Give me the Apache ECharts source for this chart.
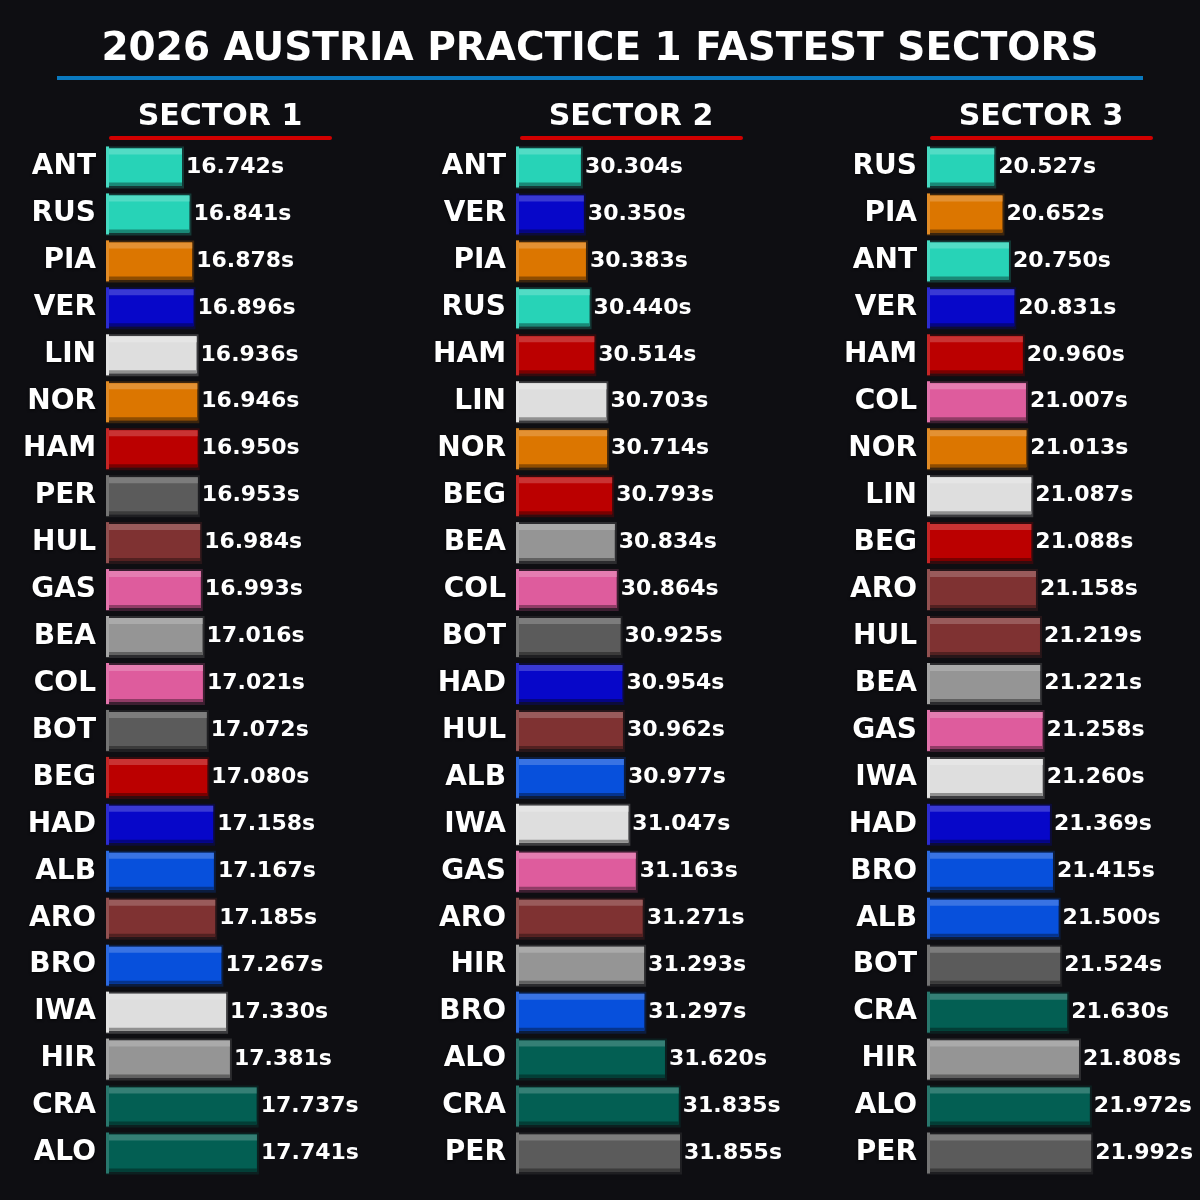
<!DOCTYPE html>
<html lang="en">
<head>
<meta charset="UTF-8">
<title>2026 Austria Practice 1 Fastest Sectors</title>
<style>
  html, body { margin: 0; padding: 0; background: #0e0e12; }
  #chart { width: 1200px; height: 1200px; }
</style>
</head>
<body>
<div id="chart"></div>
<script src="https://cdn.jsdelivr.net/npm/echarts@6/dist/echarts.min.js"></script>
<script>
var sector1Drivers = ['ANT', 'RUS', 'PIA', 'VER', 'LIN', 'NOR', 'HAM', 'PER', 'HUL', 'GAS', 'BEA', 'COL', 'BOT', 'BEG', 'HAD', 'ALB', 'ARO', 'BRO', 'IWA', 'HIR', 'CRA', 'ALO'];
var sector1Times = [16.742, 16.841, 16.878, 16.896, 16.936, 16.946, 16.950, 16.953, 16.984, 16.993, 17.016, 17.021, 17.072, 17.080, 17.158, 17.167, 17.185, 17.267, 17.330, 17.381, 17.737, 17.741];

var sector2Drivers = ['ANT', 'VER', 'PIA', 'RUS', 'HAM', 'LIN', 'NOR', 'BEG', 'BEA', 'COL', 'BOT', 'HAD', 'HUL', 'ALB', 'IWA', 'GAS', 'ARO', 'HIR', 'BRO', 'ALO', 'CRA', 'PER'];
var sector2Times = [30.304, 30.350, 30.383, 30.440, 30.514, 30.703, 30.714, 30.793, 30.834, 30.864, 30.925, 30.954, 30.962, 30.977, 31.047, 31.163, 31.271, 31.293, 31.297, 31.620, 31.835, 31.855];

var sector3Drivers = ['RUS', 'PIA', 'ANT', 'VER', 'HAM', 'COL', 'NOR', 'LIN', 'BEG', 'ARO', 'HUL', 'BEA', 'GAS', 'IWA', 'HAD', 'BRO', 'ALB', 'BOT', 'CRA', 'HIR', 'ALO', 'PER'];
var sector3Times = [20.527, 20.652, 20.750, 20.831, 20.960, 21.007, 21.013, 21.087, 21.088, 21.158, 21.219, 21.221, 21.258, 21.260, 21.369, 21.415, 21.500, 21.524, 21.630, 21.808, 21.972, 21.992];

var sectorTitles = ['SECTOR 1', 'SECTOR 2', 'SECTOR 3'];

// team colours
var TEAL = '#27d3b7', RB = '#0707c9', ORANGE = '#dc7600', RED = '#bb0000', LIGHT = '#dedede',
    CAD = '#5b5b5b', AUDI = '#7f3232', PINK = '#de5c9d', HAAS = '#959595', WIL = '#0750dc', AM = '#035f53';
var driverColors = {
    ANT: TEAL, RUS: TEAL, VER: RB, HAD: RB, PIA: ORANGE, NOR: ORANGE, HAM: RED, BEG: RED,
    LIN: LIGHT, IWA: LIGHT, PER: CAD, BOT: CAD, HUL: AUDI, ARO: AUDI, GAS: PINK, COL: PINK,
    BEA: HAAS, HIR: HAAS, ALB: WIL, BRO: WIL, CRA: AM, ALO: AM
};

var FONT = '"DejaVu Sans", "Noto Sans", sans-serif';

function mix(hex, target, t) {
    var a = parseInt(hex.slice(1), 16), b = parseInt(target.slice(1), 16);
    var r = Math.round(((a >> 16) & 255) * (1 - t) + ((b >> 16) & 255) * t);
    var g = Math.round(((a >> 8) & 255) * (1 - t) + ((b >> 8) & 255) * t);
    var bl = Math.round((a & 255) * (1 - t) + (b & 255) * t);
    return 'rgb(' + r + ',' + g + ',' + bl + ')';
}

var sectors = [
    { drivers: sector1Drivers, times: sector1Times, left: 107, width: 300, min: 15.742, max: 19.742 },
    { drivers: sector2Drivers, times: sector2Times, left: 517, width: 300, min: 29.304, max: 33.999 },
    { drivers: sector3Drivers, times: sector3Times, left: 928, width: 260, min: 19.527, max: 23.455 }
];

function makeRenderer(drivers) {
    return function (params, api) {
        var idx = api.value(1);
        var val = api.value(0);
        var end = api.coord([val, idx]);
        var x0 = params.coordSys.x;
        var cy = end[1];
        var w = end[0] - x0;
        var h = 37;
        var top = cy - h / 2;
        var c = driverColors[drivers[idx]];
        return {
            type: 'group',
            children: [
                { type: 'rect', shape: { x: x0 - 1, y: top - 2, width: w + 3, height: h + 5 },
                  style: { fill: mix(c, '#0e0e12', 0.78) } },
                { type: 'rect', shape: { x: x0, y: top, width: w, height: h },
                  style: { fill: c } },
                { type: 'rect', shape: { x: x0, y: top, width: w, height: 6 },
                  style: { fill: mix(c, '#ffffff', 0.2) } },
                { type: 'rect', shape: { x: x0, y: top + h - 3, width: w, height: 3 },
                  style: { fill: mix(c, '#000000', 0.35) } },
                { type: 'rect', shape: { x: x0 - 1, y: top - 2, width: 3, height: h + 4 },
                  style: { fill: mix(c, '#ffffff', 0.15) } },
                { type: 'text', x: end[0] + 4, y: cy,
                  style: { text: val.toFixed(3) + 's', fill: '#ffffff', font: 'bold 22px ' + FONT,
                           verticalAlign: 'middle', align: 'left',
                           shadowColor: 'rgba(0,0,0,0.8)', shadowBlur: 3, shadowOffsetY: 1 } }
            ]
        };
    };
}

var grids = [], xAxes = [], yAxes = [], series = [];
sectors.forEach(function (s, k) {
    grids.push({ left: s.left, width: s.width, top: 143.5, height: 1033 });
    xAxes.push({ type: 'value', gridIndex: k, min: s.min, max: s.max, show: false });
    yAxes.push({
        type: 'category', gridIndex: k, inverse: true, data: s.drivers,
        axisLine: { show: false }, axisTick: { show: false }, splitLine: { show: false },
        axisLabel: {
            margin: 11, color: '#ffffff', fontFamily: FONT, fontWeight: 'bold', fontSize: 28,
            textShadowColor: 'rgba(0,0,0,0.8)', textShadowBlur: 3, textShadowOffsetY: 1
        }
    });
    series.push({
        type: 'custom', xAxisIndex: k, yAxisIndex: k,
        encode: { x: 0, y: 1 },
        data: s.times.map(function (t, i) { return [t, i]; }),
        renderItem: makeRenderer(s.drivers),
        silent: true
    });
});

var headerCenters = [220, 631, 1041];
var graphics = [
    { type: 'text', x: 600, y: 50,
      style: { text: '2026 AUSTRIA PRACTICE 1 FASTEST SECTORS', fill: '#ffffff', font: 'bold 39px ' + FONT,
               align: 'center', verticalAlign: 'middle', shadowColor: 'rgba(0,0,0,0.8)', shadowBlur: 3, shadowOffsetY: 2 } },
    { type: 'rect', shape: { x: 57, y: 76, width: 1086, height: 4 }, style: { fill: '#0a79bf' } }
];
headerCenters.forEach(function (cx, k) {
    graphics.push({ type: 'text', x: cx, y: 117,
        style: { text: sectorTitles[k], fill: '#ffffff', font: 'bold 30px ' + FONT,
                 align: 'center', verticalAlign: 'middle', shadowColor: 'rgba(0,0,0,0.8)', shadowBlur: 3, shadowOffsetY: 2 } });
    graphics.push({ type: 'rect', shape: { x: cx - 111, y: 136, width: 223, height: 4, r: 2 }, style: { fill: '#d10000' } });
});

var chart = echarts.init(document.getElementById('chart'));
chart.setOption({
    backgroundColor: '#0e0e12',
    animation: false,
    grid: grids,
    xAxis: xAxes,
    yAxis: yAxes,
    series: series,
    graphic: graphics
});
</script>
</body>
</html>
